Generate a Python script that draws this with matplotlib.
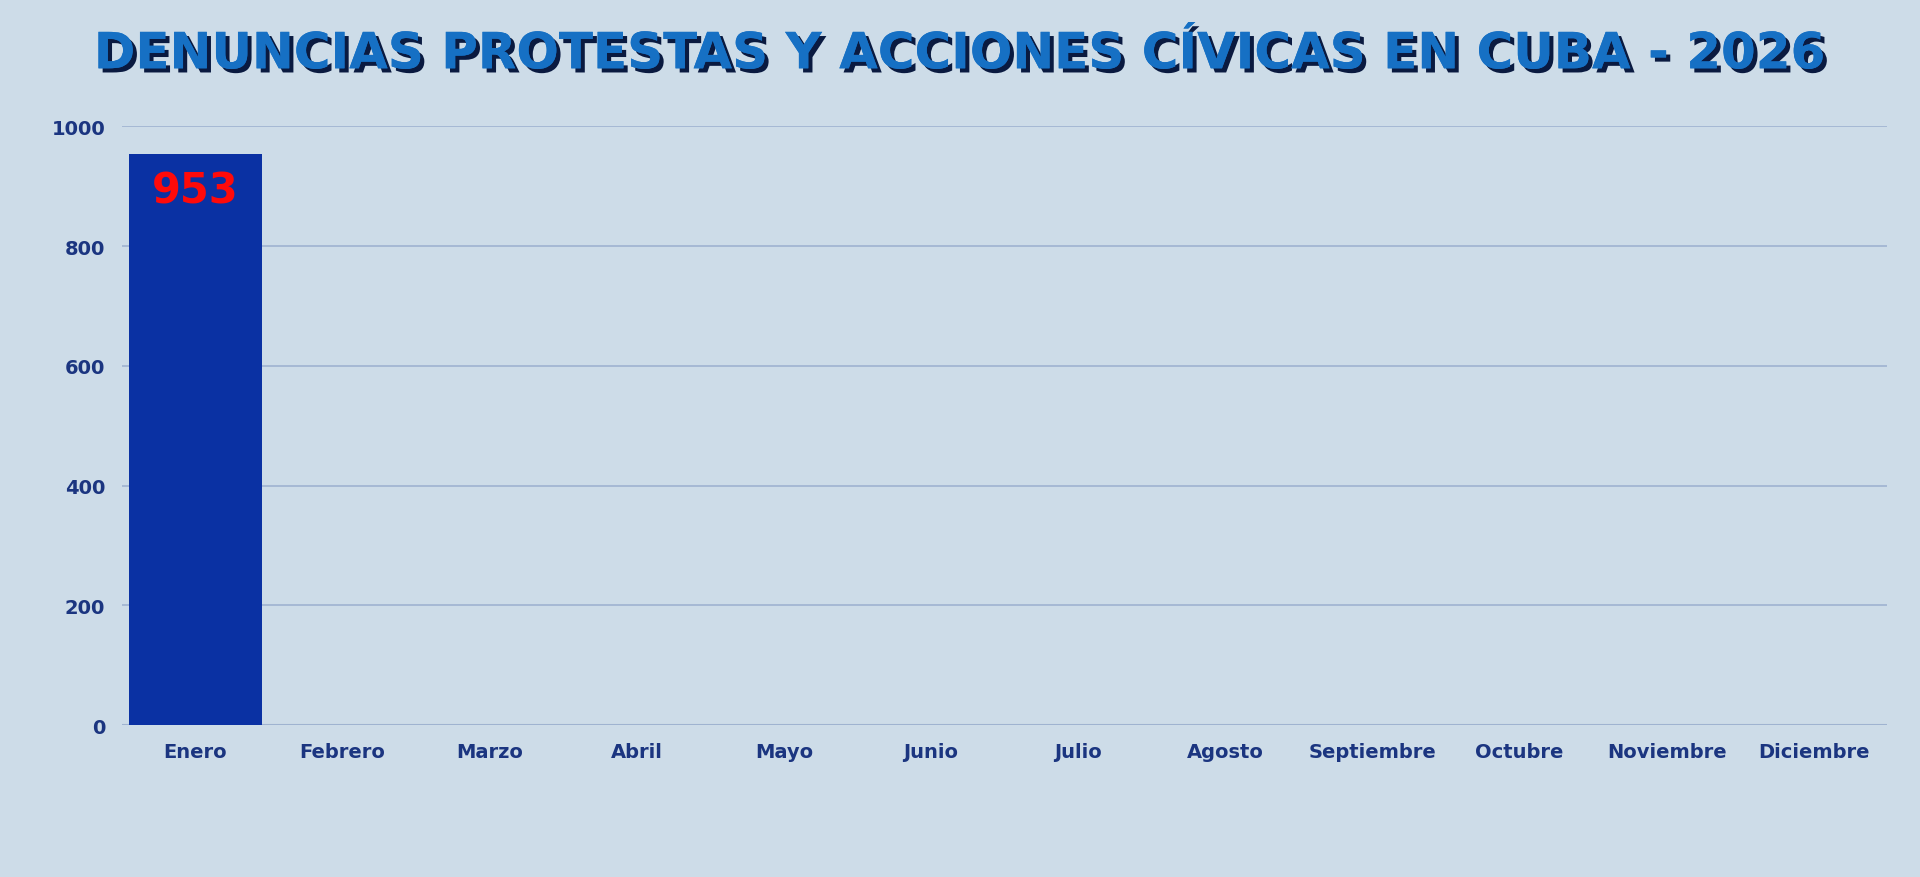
import matplotlib
matplotlib.use("Agg")
import matplotlib.pyplot as plt
import matplotlib.patheffects as pe

months = ["Enero", "Febrero", "Marzo", "Abril", "Mayo", "Junio", "Julio",
          "Agosto", "Septiembre", "Octubre", "Noviembre", "Diciembre"]
values = [953, 0, 0, 0, 0, 0, 0, 0, 0, 0, 0, 0]
yticks = [0, 200, 400, 600, 800, 1000]
title = "DENUNCIAS PROTESTAS Y ACCIONES CÍVICAS EN CUBA - 2026"

bg = "#cddce8"
fig = plt.figure(figsize=(19.2, 8.78), dpi=100, facecolor=bg)
ax = fig.add_axes([0.0635, 0.173, 0.9195, 0.682], facecolor=bg)

x = range(len(months))
ax.bar(x, values, width=0.9, color="#0a31a3", zorder=3)
for xi, v in zip(x, values):
    if v > 0:
        ax.text(xi, v - 25, str(v), ha="center", va="top", color="#ff0a0a",
                fontsize=30, fontweight="bold", zorder=4)

ax.set_xlim(-0.5, 11.5)
ax.set_ylim(0, 1000)
ax.set_yticks(yticks)
ax.set_xticks(list(x))
ax.set_xticklabels(months)
ax.yaxis.grid(True, color="#9fb3d0", linewidth=1.2, zorder=0)
ax.tick_params(length=0, labelsize=14, labelcolor="#1b3580", pad=12)
for lab in ax.get_xticklabels() + ax.get_yticklabels():
    lab.set_fontweight("bold")
for s in ax.spines.values():
    s.set_visible(False)
ax.axhline(0, color="#9fb3d0", linewidth=1.5, zorder=2)

fig.text(0.5, 0.937, title, ha="center", va="center", fontsize=36,
         fontweight="heavy", color="#1670c4",
         path_effects=[pe.withSimplePatchShadow(offset=(3, -3), shadow_rgbFace="#0a1a40", alpha=1),
                       pe.Normal()])

fig.savefig("out.png", dpi=100, facecolor=bg)
